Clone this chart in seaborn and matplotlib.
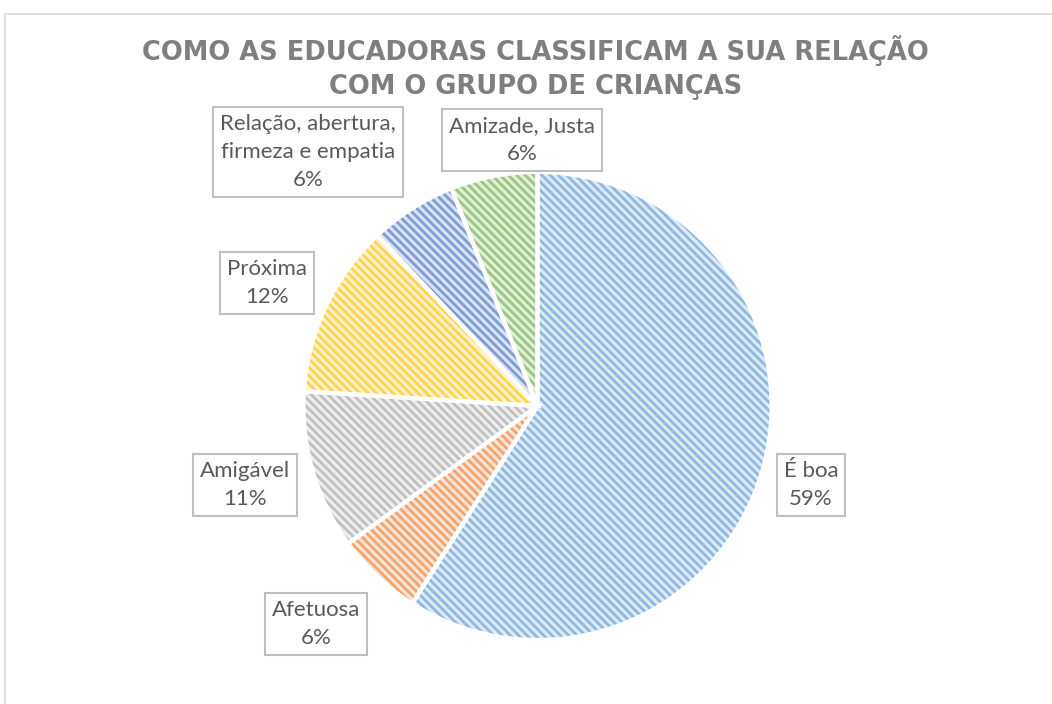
import numpy as np
import matplotlib
matplotlib.use("Agg")
import matplotlib.pyplot as plt
import seaborn as sns
from matplotlib.patches import Rectangle

# ---- data ----
categories = ["É boa", "Afetuosa", "Amigável", "Próxima",
              "Relação, abertura,\nfirmeza e empatia", "Amizade, Justa"]
values = [59, 6, 11, 12, 6, 6]
pct_labels = ["59%", "6%", "11%", "12%", "6%", "6%"]
title = "COMO AS EDUCADORAS CLASSIFICAM A SUA RELAÇÃO\nCOM O GRUPO DE CRIANÇAS"

# ---- styles ----
base_colors = ["#5B9BD5", "#ED7D31", "#A5A5A5", "#FFC000", "#4472C4", "#70AD47"]

def mix(c, w):
    rgb = np.array(matplotlib.colors.to_rgb(c))
    return tuple(rgb * (1 - w) + w)

face_colors = [mix(c, 0.8) for c in base_colors]
hatch_colors = [mix(c, 0.3) for c in base_colors]

# label offsets (in units of pie radius from centre)
label_offsets = [(1.169, -0.338), (-0.947, -0.932), (-1.25, -0.338),
                 (-1.156, 0.526), (-0.981, 1.085), (-0.066, 1.137)]

sns.set_theme(style="white")
plt.rcParams["font.family"] = ["Lato", "DejaVu Sans"]
plt.rcParams["hatch.linewidth"] = 2.0

W, H = 1052, 704
fig = plt.figure(figsize=(W / 100, H / 100), dpi=100)
ax = fig.add_axes([0, 0, 1, 1])

cx, cy, R = 537.5, 704 - 406, 234

# hatched wedges
wedges, _ = ax.pie(values, startangle=90, counterclock=False,
                   center=(cx, cy), radius=R,
                   colors=face_colors,
                   wedgeprops=dict(linewidth=0))
for w, hc in zip(wedges, hatch_colors):
    w.set_hatch("\\\\\\\\")
    w.set_edgecolor(hc)
    w.set_linewidth(0)

# white separators
ax.pie(values, startangle=90, counterclock=False,
       center=(cx, cy), radius=R,
       colors=["none"] * len(values),
       wedgeprops=dict(linewidth=3, edgecolor="white", fill=False))

# labels
for cat, pct, (dx, dy) in zip(categories, pct_labels, label_offsets):
    ax.text(cx + dx * R, cy + dy * R, f"{cat}\n{pct}",
            ha="center", va="center", fontsize=16, color="#595959",
            linespacing=1.5,
            bbox=dict(boxstyle="square,pad=0.32", facecolor="white",
                      edgecolor="#BFBFBF", linewidth=1.5))

# chart frame
ax.add_patch(Rectangle((4.5, -20), 1100, 704 - 13.5 + 20, fill=False,
                       edgecolor="#D9D9D9", linewidth=1.2, clip_on=True))

# title
ax.text(535.5, 704 - 68, title, ha="center", va="center",
        fontsize=18.5, fontweight="bold", color="#7F7F7F",
        family="DejaVu Sans", linespacing=1.4)

ax.set_xlim(0, W)
ax.set_ylim(0, H)
ax.set_aspect("equal")
ax.axis("off")

fig.savefig("out.png", dpi=100)
